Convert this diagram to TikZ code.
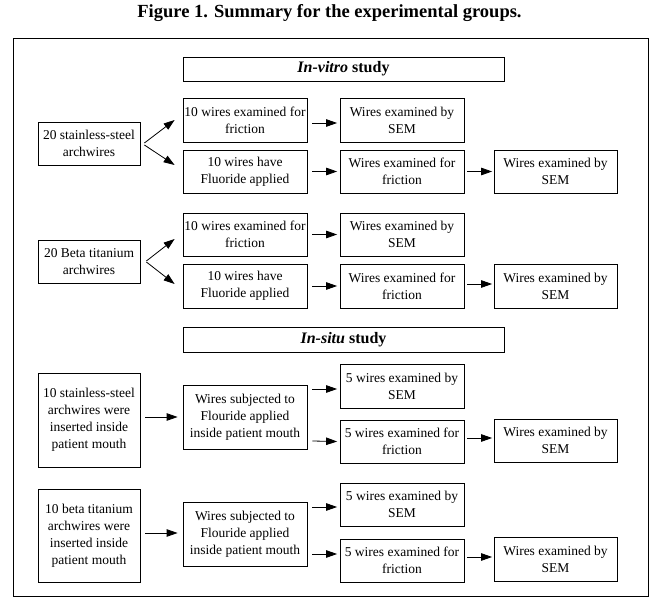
\documentclass[tikz,border=0pt]{standalone}
\usepackage{fontspec}
\setmainfont{Liberation Serif}
\usetikzlibrary{arrows.meta}
\begin{document}
\begin{tikzpicture}[x=1pt,y=-1pt,
  box/.style={draw, line width=0.8pt, align=center, inner sep=0pt, font=\fontsize{13.5}{17}\selectfont},
  colA/.style={box, minimum width=102pt},
  colB/.style={box, minimum width=124pt},
  colD/.style={box, minimum width=123pt},
  hdr/.style={draw, line width=0.8pt, minimum width=321pt, inner sep=0pt, font=\bfseries\fontsize{16}{19}\selectfont},
  arr/.style={-{Triangle[length=11pt,width=7.5pt]}, line width=0.8pt}]
\useasboundingbox (0,0) rectangle (666,609);
\node[anchor=base, inner sep=0pt, font=\bfseries\fontsize{18.5}{22}\selectfont] (title) at (329.5,18) {Figure 1. Summary for the experimental groups.};
\draw[line width=1pt] (13,39) rectangle (648,596);

% In-vitro
\node[hdr, minimum height=24pt] (vitro) at (343.5,69) {\textit{In-vitro} study};
\node[colA, minimum height=43pt] (ss) at (89,143.5) {20 stainless-steel\\archwires};
\node[colB, minimum height=44pt] (a1) at (245,120) {10 wires examined for\\friction};
\node[colB, minimum height=43pt] (a2) at (245,171.5) {10 wires have\\Fluoride applied};
\node[colB, minimum height=44pt] (b1) at (402,120) {Wires examined by\\SEM};
\node[colB, minimum height=43pt] (b2) at (402,171.5) {Wires examined for\\friction};
\node[colD, minimum height=43pt] (c2) at (555.5,171.5) {Wires examined by\\SEM};

\node[colA, minimum height=43pt] (bt) at (89,261.5) {20 Beta titanium\\archwires};
\node[colB, minimum height=43pt] (d1) at (245,234.5) {10 wires examined for\\friction};
\node[colB, minimum height=44pt] (d2) at (245,286) {10 wires have\\Fluoride applied};
\node[colB, minimum height=43pt] (e1) at (402,234.5) {Wires examined by\\SEM};
\node[colB, minimum height=44pt] (e2) at (402,286) {Wires examined for\\friction};
\node[colD, minimum height=44pt] (f2) at (555.5,286) {Wires examined by\\SEM};

\draw[arr] ([xshift=4pt,yshift=0.5pt]ss.east) -- ([xshift=-8pt,yshift=0pt]a1.west);
\draw[arr] ([xshift=4pt,yshift=-1.5pt]ss.east) -- ([xshift=-8pt,yshift=6.5pt]a2.west);
\draw[arr] ([xshift=5pt,yshift=-3pt]a1.east) -- ([xshift=-2.5pt,yshift=-3pt]b1.west);
\draw[arr] ([xshift=5pt]a2.east) -- ([xshift=-2.5pt]b2.west);
\draw[arr] ([xshift=3pt]b2.east) -- ([xshift=-1.5pt]c2.west);

\draw[arr] ([xshift=6pt,yshift=0.5pt]bt.east) -- ([xshift=-8pt,yshift=-4.5pt]d1.west);
\draw[arr] ([xshift=6pt,yshift=-0.5pt]bt.east) -- ([xshift=-8pt,yshift=2pt]d2.west);
\draw[arr] ([xshift=5pt]d1.east) -- ([xshift=-2.5pt]e1.west);
\draw[arr] ([xshift=5pt]d2.east) -- ([xshift=-2.5pt]e2.west);
\draw[arr] ([xshift=3pt,yshift=2pt]e2.east) -- ([xshift=-1.5pt,yshift=2pt]f2.west);

% In-situ
\node[hdr, minimum height=25pt] (situ) at (343.5,339.5) {\textit{In-situ} study};
\node[colA, minimum height=94pt] (is1) at (89,420) {10 stainless-steel\\archwires were\\inserted inside\\patient mouth};
\node[colB, minimum height=64pt] (g) at (245,417) {Wires subjected to\\Flouride applied\\inside patient mouth};
\node[colB, minimum height=44pt] (h1) at (402,386) {5 wires examined by\\SEM};
\node[colB, minimum height=43pt] (h2) at (402,441.5) {5 wires examined for\\friction};
\node[colD, minimum height=43pt] (i2) at (555.5,440.5) {Wires examined by\\SEM};

\node[colA, minimum height=93pt] (it1) at (89,535.5) {10 beta titanium\\archwires were\\inserted inside\\patient mouth};
\node[colB, minimum height=64pt] (k) at (245,534) {Wires subjected to\\Flouride applied\\inside patient mouth};
\node[colB, minimum height=43pt] (l1) at (402,504.5) {5 wires examined by\\SEM};
\node[colB, minimum height=43pt] (l2) at (402,560.5) {5 wires examined for\\friction};
\node[colD, minimum height=44pt] (m2) at (555.5,559) {Wires examined by\\SEM};

\draw[arr] ([xshift=5pt,yshift=3pt]is1.east) -- ([xshift=-5pt]g.west);
\draw[arr] ([xshift=5pt,yshift=28pt]g.east) -- ([xshift=-2.5pt,yshift=-3pt]h1.west);
\draw[arr] ([xshift=5pt,yshift=-24pt]g.east) -- ([xshift=-2.5pt]h2.west);
\draw[arr] ([xshift=3pt,yshift=3.5pt]h2.east) -- ([xshift=-1.5pt,yshift=2.5pt]i2.west);

\draw[arr] ([xshift=5pt,yshift=2.5pt]it1.east) -- ([xshift=-5pt,yshift=1pt]k.west);
\draw[arr] ([xshift=5pt,yshift=27pt]k.east) -- ([xshift=-2.5pt,yshift=-2.5pt]l1.west);
\draw[arr] ([xshift=5pt,yshift=-20pt]k.east) -- ([xshift=-2.5pt,yshift=6.5pt]l2.west);
\draw[arr] ([xshift=3pt,yshift=3.5pt]l2.east) -- ([xshift=-1.5pt,yshift=2pt]m2.west);
\end{tikzpicture}
\end{document}
